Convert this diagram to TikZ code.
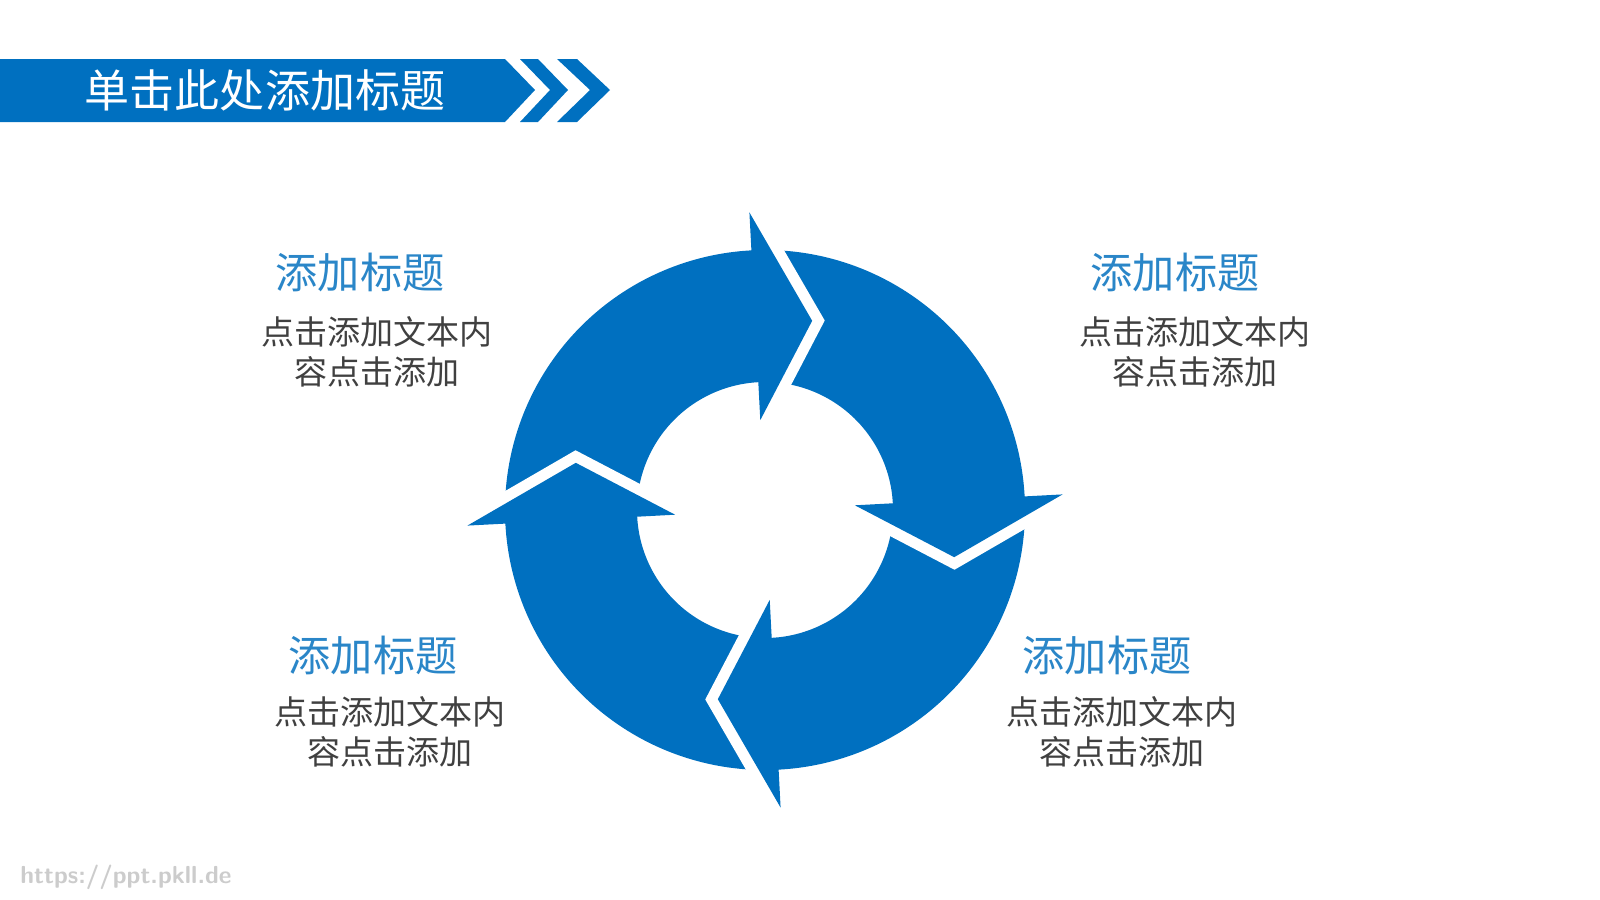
\documentclass[tikz,border=0pt]{standalone}
\usepackage{fontspec}
\newfontfamily\cjk{Noto Sans CJK SC}
\definecolor{mainblue}{HTML}{0070C0}
\definecolor{lightblue}{HTML}{2A86C8}
\definecolor{textgray}{HTML}{404040}
\tikzset{
  headtitle/.style={font=\cjk\fontsize{12.8pt}{14pt}\selectfont, text=white},
  parttitle/.style={font=\cjk\fontsize{12pt}{14pt}\selectfont, text=lightblue},
  partbody/.style={font=\cjk\fontsize{9.4pt}{11.4pt}\selectfont, text=textgray, align=center}
}
\begin{document}
\begin{tikzpicture}[x=0.01cm, y=-0.01cm]
\useasboundingbox (0,0) rectangle (1600,900);

% title bar
\fill[mainblue] (0,59) -- (505,59) -- (535,90) -- (505,122) -- (0,122) -- cycle;
\fill[mainblue] (520,59) -- (538,59) -- (568,90) -- (538,122) -- (520,122) -- (550,90) -- cycle;
\fill[mainblue] (557,59) -- (577,59) -- (610,90) -- (577,122) -- (557,122) -- (590,90) -- cycle;
\node[headtitle] (title) at (265,90) {单击此处添加标题};

% cycle
\begin{scope}[shift={(765,510)}, yscale=-1, rotate=-3]
\foreach \a in {90,0,-90,-180}
  \fill[mainblue] (\a+90:260) arc[start angle=\a+90, end angle=\a-0.4, radius=260]
    -- (\a-0.4:128) arc[start angle=\a-0.4, end angle=\a+90, radius=128] -- cycle;
\foreach \a in {90,0,-90,-180} {
  \draw[white, line width=0.22cm, line join=miter] (\a:298) -- (\a-17:195) -- (\a:90);
  \fill[mainblue] (\a:90) -- (\a:298) -- (\a-17:195) -- cycle;
}
\end{scope}

% labels
\node[parttitle] (t1) at (360,272) {添加标题};
\node[partbody] (b1) at (377,352) {点击添加文本内\\容点击添加};
\node[parttitle] (t2) at (1175,272) {添加标题};
\node[partbody] (b2) at (1195,352) {点击添加文本内\\容点击添加};
\node[parttitle] (t3) at (373,655) {添加标题};
\node[partbody] (b3) at (390,732) {点击添加文本内\\容点击添加};
\node[parttitle] (t4) at (1107,655) {添加标题};
\node[partbody] (b4) at (1122,732) {点击添加文本内\\容点击添加};

\node[anchor=west, text=black!20, font=\fontsize{7pt}{8pt}\selectfont\sffamily\bfseries] (mark) at (8,877) {https://ppt.pkll.de};
\end{tikzpicture}
\end{document}
